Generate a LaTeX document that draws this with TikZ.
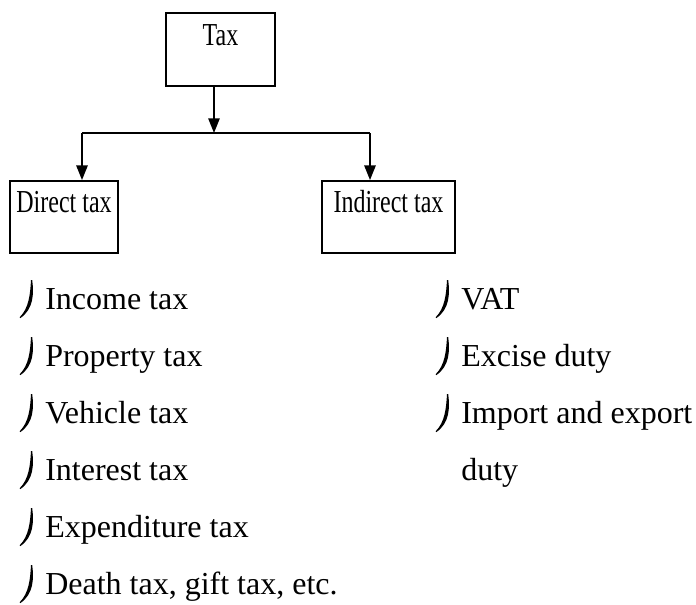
\documentclass[tikz,border=0pt]{standalone}
\usepackage{fontspec}
\setmainfont{Liberation Serif}
\usetikzlibrary{arrows.meta,positioning}

\begin{document}
\begin{tikzpicture}[
  x=0.75pt, y=-0.75pt,
  box/.style={draw, line width=1.4pt, inner sep=0pt, text depth=30.75pt,
    font=\fontsize{24}{29}\selectfont},
  item/.style={inner sep=0pt, anchor=base west, font=\fontsize{24}{29}\selectfont},
  link/.style={line width=1.3pt},
  arrow/.style={link, -{Triangle[length=11pt,width=8.5pt]}},
  hook/.pic={\fill (-12.8,-29) .. controls (-11,-15) and (-11.5,0) .. (-24.5,9)
    -- (-25.3,8.2) .. controls (-16,-1) and (-14.8,-15) .. (-14,-29) -- cycle;}
]
\useasboundingbox (0,0) rectangle (696,604);

% boxes
\node[box, minimum width=81.75pt, text height=24pt] (tax) at (220.5,49.5) {\scalebox{0.75}[1]{Tax}};
\node[box, minimum width=81pt, text height=23.25pt] (direct) at (64,217) {\scalebox{0.75}[1]{Direct tax}};
\node[box, minimum width=99.75pt, text height=23.25pt] (indirect) at (388.5,217) {\scalebox{0.75}[1]{Indirect tax}};

% connectors
\coordinate (split) at (214,133);
\coordinate (jl) at (82,133);
\coordinate (jr) at (370,133);
\draw[arrow] (tax.south -| split) -- (split);
\draw[link] (jl) -- (jr);
\draw[arrow] (jl) -- (jl |- direct.north);
\draw[arrow] (jr) -- (jr |- indirect.north);

% lists
\foreach \txt [count=\i] in {Income tax, Property tax, Vehicle tax, Interest tax,
    Expenditure tax, {Death tax, gift tax, etc.}} {
  \node[item] (d\i) at (45,252+57*\i) {\txt};
  \pic at (d\i.base west) {hook};
}
\foreach \txt [count=\i] in {VAT, Excise duty, Import and export} {
  \node[item] (n\i) at (461,252+57*\i) {\txt};
  \pic at (n\i.base west) {hook};
}
\node[item] (n4) at (461,480) {duty};
\end{tikzpicture}
\end{document}
